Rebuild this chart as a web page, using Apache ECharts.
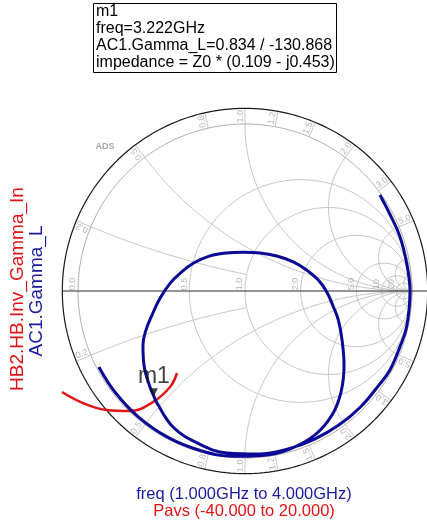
<!DOCTYPE html>
<html>
<head>
<meta charset="utf-8">
<script src="https://cdn.jsdelivr.net/npm/echarts@6/dist/echarts.min.js"></script>
<style>
  html, body { margin: 0; padding: 0; background: #ffffff; }
  #chart { width: 427px; height: 525px; }
</style>
</head>
<body>
<div id="chart"></div>
<script>
// AC1.Gamma_L swept 1.000 GHz .. 4.000 GHz (real / imaginary part of the reflection coefficient)
const gammaLRe = [0.808, 0.870, 0.928, 0.968, 0.988, 0.968, 0.928, 0.868, 0.803, 0.693, 0.562, 0.414, 0.254, 0.085,
  -0.108, -0.287, -0.431, -0.527, -0.546, -0.569, -0.605, -0.611, -0.593, -0.557, -0.509, -0.449, -0.389, -0.310,
  -0.210, -0.110, -0.010, 0.090, 0.190, 0.289, 0.369, 0.439, 0.489, 0.529, 0.559, 0.581, 0.593, 0.575, 0.521,
  0.419, 0.269, 0.102, -0.070, -0.268, -0.464, -0.641, -0.779, -0.875];
const gammaLIm = [0.575, 0.455, 0.325, 0.166, 0.000, -0.214, -0.333, -0.473, -0.562, -0.693, -0.803, -0.888, -0.947, -0.976,
  -0.970, -0.910, -0.814, -0.671, -0.630, -0.575, -0.443, -0.323, -0.234, -0.144, -0.044, 0.046, 0.106, 0.166,
  0.210, 0.228, 0.232, 0.228, 0.210, 0.175, 0.126, 0.066, -0.004, -0.094, -0.174, -0.293, -0.443, -0.605, -0.743,
  -0.862, -0.946, -0.985, -0.990, -0.955, -0.875, -0.752, -0.605, -0.455];

// HB2.HB.Inv_Gamma_In swept over Pavs -40 .. 20
const invGammaInRe = [-1.096, -0.970, -0.826, -0.689, -0.551, -0.449, -0.407];
const invGammaInIm = [-0.605, -0.671, -0.713, -0.719, -0.665, -0.575, -0.491];

// Marker m1
const m1Name = 'm1';
const m1Freq = '3.222GHz';
const m1Mag = 0.834;
const m1AngleDeg = -130.868;
const m1Impedance = [0.109, -0.453];

// Smith chart grid values
const resistanceCircles = [0.5, 1, 2, 5, 10, 20];
const reactanceArcs = [0.5, 1, 2, 5, 10, 20];
const shortReactanceArcs = [0.2];          // drawn from r = 0 up to r = 1
const edgeLabelValues = [0.2, 0.5, 0.8, 1.0, 1.2, 1.5, 2.0, 3.0, 5.0];
const axisLabelValues = [0, 0.5, 1, 2, 5, 10, 20];

const EDGE = 1.094;           // outer ring radius (unit circle = 1)
const X_MIN = -1.2, X_MAX = 1.089, Y_MIN = -1.2, Y_MAX = 1.2;
const PX = 167;               // pixels per reflection unit
const CX = 245, CY = 291;     // chart centre on the page

function toGamma(r, x) {
  const d = (r + 1) * (r + 1) + x * x;
  return [(r * r + x * x - 1) / d, (2 * x) / d];
}

const series = [];
const gridStyle = { color: '#c6c6c6', width: 1 };
function addPath(points, style, z) {
  series.push({
    type: 'line', data: points, symbol: 'none', showSymbol: false, silent: true,
    animation: false, lineStyle: style, z: z || 1, clip: false
  });
}
function circlePts(cx, cy, rad) {
  const pts = [];
  for (let i = 0; i <= 240; i++) {
    const a = i / 240 * 2 * Math.PI;
    pts.push([cx + rad * Math.cos(a), cy + rad * Math.sin(a)]);
  }
  return pts;
}
function reactancePts(x, rMax) {
  const pts = [];
  const n = 200;
  for (let i = 0; i <= n; i++) {
    const s = i / n;
    const r = isFinite(rMax) ? rMax * s : (s < 1 ? s / (1 - s) : 1e9);
    pts.push(toGamma(r, x));
  }
  return pts;
}

// constant-resistance circles
resistanceCircles.forEach(r => addPath(circlePts(r / (1 + r), 0, 1 / (1 + r)), gridStyle));
// constant-reactance arcs
reactanceArcs.forEach(x => {
  addPath(reactancePts(x, Infinity), gridStyle);
  addPath(reactancePts(-x, Infinity), gridStyle);
});
shortReactanceArcs.forEach(x => {
  addPath(reactancePts(x, 1), gridStyle);
  addPath(reactancePts(-x, 1), gridStyle);
});
// unit circle and ring ticks
addPath(circlePts(0, 0, 1), { color: '#b0b0b0', width: 1 });
edgeLabelValues.forEach(v => {
  [v, -v].forEach(x => {
    const th = Math.atan2(2 * x, x * x - 1);
    addPath([[Math.cos(th), Math.sin(th)], [EDGE * Math.cos(th), EDGE * Math.sin(th)]], gridStyle);
  });
});
// outer ring and real axis
addPath(circlePts(0, 0, EDGE), { color: '#1a1a1a', width: 1.2 }, 2);
addPath([[-EDGE, 0], [EDGE, 0]], { color: '#2a2a2a', width: 1 }, 2);

// ring labels (reactance) and real-axis labels (resistance)
const labelData = [];
const midR = 1.047;
const shift = 4.5 / PX / midR;
edgeLabelValues.forEach(v => {
  [v, -v].forEach(x => {
    const th = Math.atan2(2 * x, x * x - 1);
    const a = x > 0 ? th + shift : th - shift;
    const deg = th * 180 / Math.PI;
    labelData.push({
      value: [midR * Math.cos(a), midR * Math.sin(a)],
      label: { formatter: v.toFixed(1), rotate: x > 0 ? deg : 180 + deg }
    });
  });
});
axisLabelValues.forEach(r => {
  const g = (r - 1) / (r + 1);
  labelData.push({
    value: [g - 5 / PX, 7 / PX],
    label: { formatter: r >= 10 ? String(r) : r.toFixed(1), rotate: 90 }
  });
});
series.push({
  type: 'scatter', data: labelData, symbolSize: 0, silent: true, animation: false, z: 3,
  label: { show: true, position: 'inside', color: '#a4a4a4', fontSize: 9,
           fontFamily: 'Liberation Sans, Arial, sans-serif' }
});

// traces
const gammaL = gammaLRe.map((v, i) => [v, gammaLIm[i]]);
const invGammaIn = invGammaInRe.map((v, i) => [v, invGammaInIm[i]]);
series.push({
  type: 'line', data: invGammaIn, symbol: 'none', smooth: 0.4, animation: false, z: 5, clip: false,
  lineStyle: { color: '#e01414', width: 2.5 }
});
series.push({
  type: 'line', data: gammaL, symbol: 'none', smooth: 0.4, animation: false, z: 6, clip: false,
  lineStyle: { color: '#0a0a96', width: 3 }
});

// marker m1
const m1Rad = m1AngleDeg * Math.PI / 180;
const m1Point = [m1Mag * Math.cos(m1Rad), m1Mag * Math.sin(m1Rad)];
series.push({
  type: 'scatter', data: [m1Point], symbol: 'triangle', symbolRotate: 180, symbolSize: [8, 8],
  symbolOffset: [0, -4], animation: false, z: 8, itemStyle: { color: '#111' },
  label: { show: true, position: 'top', distance: 0, formatter: m1Name, color: '#111', fontSize: 23,
           fontFamily: 'Liberation Sans, Arial, sans-serif' }
});

const boxLines = [
  m1Name,
  'freq=' + m1Freq,
  'AC1.Gamma_L=' + m1Mag.toFixed(3) + ' / ' + m1AngleDeg.toFixed(3),
  'impedance = Z0 * (' + m1Impedance[0].toFixed(3) + ' - j' + Math.abs(m1Impedance[1]).toFixed(3) + ')'
];

const font = '"Liberation Sans", Arial, sans-serif';
const option = {
  backgroundColor: '#ffffff',
  animation: false,
  grid: { left: CX + X_MIN * PX, top: CY - Y_MAX * PX,
          width: (X_MAX - X_MIN) * PX, height: (Y_MAX - Y_MIN) * PX, outerBoundsMode: 'none' },
  xAxis: { type: 'value', min: X_MIN, max: X_MAX, show: false },
  yAxis: { type: 'value', min: Y_MIN, max: Y_MAX, show: false },
  series: series,
  graphic: [
    { type: 'rect', shape: { x: 93.5, y: 3.5, width: 243, height: 69 },
      style: { fill: '#fff', stroke: '#000', lineWidth: 1 }, z: 10 },
    { type: 'text', x: 96, y: 3, z: 11,
      style: { text: boxLines.join('\n'), font: '16px ' + font, lineHeight: 17, fill: '#000' } },
    { type: 'text', x: 105, y: 147, z: 11,
      style: { text: 'ADS', font: 'bold 9px ' + font, fill: '#a8a8a8', align: 'center', verticalAlign: 'middle' } },
    { type: 'text', x: 18, y: 289, rotation: Math.PI / 2, z: 11,
      style: { text: 'HB2.HB.Inv_Gamma_In', font: '19px ' + font, fill: '#e01414', align: 'center', verticalAlign: 'middle' } },
    { type: 'text', x: 37, y: 291, rotation: Math.PI / 2, z: 11,
      style: { text: 'AC1.Gamma_L', font: '19px ' + font, fill: '#1a1aa0', align: 'center', verticalAlign: 'middle' } },
    { type: 'text', x: 244, y: 494, z: 11,
      style: { text: 'freq (1.000GHz to 4.000GHz)', font: '16.5px ' + font, fill: '#1a1aa0', align: 'center', verticalAlign: 'middle' } },
    { type: 'text', x: 244, y: 511, z: 11,
      style: { text: 'Pavs (-40.000 to 20.000)', font: '16.5px ' + font, fill: '#e01414', align: 'center', verticalAlign: 'middle' } }
  ]
};
const chart = echarts.init(document.getElementById('chart'));
chart.setOption(option);
</script>
</body>
</html>
